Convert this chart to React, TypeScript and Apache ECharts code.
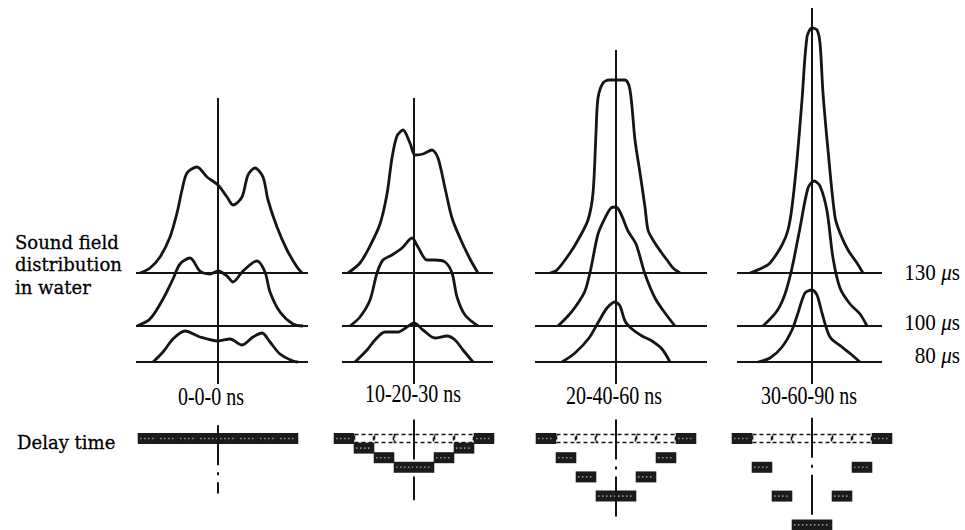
import React, { useEffect, useRef } from "react";
import * as echarts from "echarts";

// ---------- data ----------
const PANEL_LABELS = ["0-0-0 ns", "10-20-30 ns", "20-40-60 ns", "30-60-90 ns"];
const TIME_LABELS = ["80", "100", "130"]; // µs
const BASELINE_LEVELS = [18, 54, 107]; // stacking level of 80 / 100 / 130 µs traces

// sound-field profiles: [lateral position, amplitude above its baseline]
const P1_80 = [[-65,0],[-55,10],[-45,23],[-33,31],[-18,25],[0,21],[12,23],[24,17],[35,25],[44,29],[52,20],[62,8],[75,1],[80,0]];
const P1_100 = [[-81,0],[-68,7],[-55,27],[-45,47],[-38,62],[-28,68],[-18,55],[-8,52],[0,55],[9,50],[15,44],[25,55],[39,65],[47,54],[52,34],[62,14],[75,2],[85,0]];
const P1_130 = [[-78,0],[-68,5],[-58,16],[-48,36],[-41,60],[-36,83],[-31,100],[-21,106],[-11,96],[0,88],[9,76],[15,68],[24,76],[30,98],[37,105],[45,96],[50,73],[59,46],[69,23],[79,6],[84,0]];

const P2_80 = [[-59,0],[-47,12],[-39,22],[-29,30],[-16,30],[-7,35],[0,39],[9,32],[21,24],[33,26],[41,22],[49,12],[59,0]];
const P2_100 = [[-64,0],[-54,9],[-44,26],[-37,53],[-31,66],[-22,71],[-12,78],[-2,88],[4,79],[13,66],[21,66],[31,64],[38,53],[43,29],[51,11],[64,0]];
const P2_130 = [[-66,0],[-54,10],[-44,27],[-34,49],[-27,79],[-22,115],[-17,137],[-11,143],[-4,130],[1,118],[9,119],[18,123],[24,115],[31,85],[38,55],[46,35],[56,14],[64,0]];

const P3_80 = [[-54,0],[-41,9],[-27,24],[-17,41],[-9,54],[-1,60],[4,56],[9,41],[16,33],[26,26],[36,21],[46,13],[54,0]];
const P3_100 = [[-58,0],[-48,10],[-40,20],[-31,35],[-25,58],[-18,92],[-11,108],[-5,118],[0,119],[5,112],[12,95],[20,82],[29,52],[39,28],[49,13],[59,0]];
const P3_130 = [[-66,0],[-59,3],[-46,20],[-38,33],[-28,53],[-23,80],[-20,140],[-18,175],[-13,190],[-7,193],[9,193],[14,183],[19,133],[24,100],[29,66],[32,43],[37,33],[45,21],[51,13],[57,5],[64,0]];

const P4_80 = [[-54,0],[-42,4],[-30,15],[-20,32],[-14,49],[-7,69],[0,72],[5,67],[10,49],[18,25],[30,15],[40,7],[48,0]];
const P4_100 = [[-49,0],[-35,15],[-27,32],[-20,58],[-12,98],[-4,138],[2,145],[8,140],[15,115],[21,68],[28,38],[38,22],[48,12],[55,0]];
const P4_130 = [[-62,0],[-50,5],[-42,10],[-30,28],[-24,43],[-20,66],[-15,113],[-10,173],[-5,236],[0,245],[5,243],[8,230],[11,180],[16,123],[23,56],[28,40],[36,23],[45,10],[51,0]];

const PROFILES = [
  [P1_80, P1_100, P1_130],
  [P2_80, P2_100, P2_130],
  [P3_80, P3_100, P3_130],
  [P4_80, P4_100, P4_130],
];

// horizontal extents of the baselines and top of the axis line, per panel
const BASE_EXTENTS = [[-82, 90], [-72, 79], [-81, 91], [-75, 70]];
const AXIS_TOPS = [282, 282, 330, 372];

// transducer elements (lateral edges) and their delays in ns
const ELEMENT_EDGES = [[-80,-60],[-60,-40],[-40,-20],[-20,20],[20,40],[40,60],[60,80]];
const DELAYS_1 = [0, 0, 0, 0, 0, 0, 0];
const DELAYS_2 = [0, 10, 20, 30, 20, 10, 0];
const DELAYS_3 = [0, 20, 40, 60, 40, 20, 0];
const DELAYS_4 = [0, 30, 60, 90, 60, 30, 0];
const DELAYS = [DELAYS_1, DELAYS_2, DELAYS_3, DELAYS_4];
// extent of the dash-dot centre line in the delay diagrams (ns units)
const DELAY_AXIS_SPANS = [[-8, 63], [-14, 70], [-14, 88], [-16, 90]];

// ---------- layout ----------
const CENTERS = [218, 414, 616, 812];
const HALF = 100;
const LABEL_POS = [[211, 397], [413, 394], [614, 396], [809, 396]];
const TIME_LABEL_Y = [355, 322, 272];
const BAR_H = 11;
const INK = "#151515";

function buildOption() {
  const grid: any[] = [];
  const xAxis: any[] = [];
  const yAxis: any[] = [];
  const series: any[] = [];

  CENTERS.forEach((c) => {
    grid.push({ left: c - HALF, top: 0, width: 2 * HALF, height: 400 });
    xAxis.push({ type: "value", min: -HALF, max: HALF, show: false, gridIndex: grid.length - 1 });
    yAxis.push({ type: "value", min: -20, max: 380, show: false, gridIndex: grid.length - 1 });
  });
  CENTERS.forEach((c) => {
    grid.push({ left: c - HALF, top: 413.8, width: 2 * HALF, height: 115.2 });
    xAxis.push({ type: "value", min: -HALF, max: HALF, show: false, gridIndex: grid.length - 1 });
    yAxis.push({ type: "value", min: -20, max: 100, inverse: true, show: false, gridIndex: grid.length - 1 });
  });

  const lineBase = { type: "line", symbol: "none", silent: true, clip: false, animation: false };

  PROFILES.forEach((panel, i) => {
    BASELINE_LEVELS.forEach((lvl) => {
      series.push({
        ...lineBase,
        xAxisIndex: i,
        yAxisIndex: i,
        data: [[BASE_EXTENTS[i][0], lvl], [BASE_EXTENTS[i][1], lvl]],
        lineStyle: { color: INK, width: 2 },
      });
    });
    series.push({
      ...lineBase,
      xAxisIndex: i,
      yAxisIndex: i,
      data: [[0, -4], [0, AXIS_TOPS[i]]],
      lineStyle: { color: INK, width: 2 },
    });
    panel.forEach((prof, k) => {
      series.push({
        ...lineBase,
        name: PANEL_LABELS[i] + " " + TIME_LABELS[k] + " µs",
        xAxisIndex: i,
        yAxisIndex: i,
        smooth: 0.3,
        data: prof.map(([x, h]) => [x, BASELINE_LEVELS[k] + h]),
        lineStyle: { color: INK, width: 2.8, join: "round" },
      });
    });
  });

  DELAYS.forEach((del, i) => {
    const gi = 4 + i;
    series.push({
      ...lineBase,
      xAxisIndex: gi,
      yAxisIndex: gi,
      data: [[0, DELAY_AXIS_SPANS[i][0]], [0, DELAY_AXIS_SPANS[i][1]]],
      lineStyle: { color: INK, width: 2, type: [40, 7, 3, 7] },
    });
    const ghost = ELEMENT_EDGES.map((e, k) => [e[0], e[1], 0, del[k]]).filter((d) => d[3] > 0);
    if (ghost.length) {
      series.push({
        type: "custom",
        xAxisIndex: gi,
        yAxisIndex: gi,
        clip: false,
        silent: true,
        encode: { x: [0, 1], y: 2 },
        data: ghost,
        renderItem: (params: any, api: any) => {
          const p0 = api.coord([api.value(0), api.value(2)]);
          const p1 = api.coord([api.value(1), api.value(2)]);
          return {
            type: "rect",
            shape: { x: p0[0] + 0.5, y: p0[1] + 1.5, width: p1[0] - p0[0] - 1, height: BAR_H - 3 },
            style: { fill: "none", stroke: INK, lineWidth: 1.6, lineDash: [4, 3] },
          };
        },
      });
    }
    series.push({
      type: "custom",
      xAxisIndex: gi,
      yAxisIndex: gi,
      clip: false,
      silent: true,
      encode: { x: [0, 1], y: 2 },
      data: ELEMENT_EDGES.map((e, k) => [e[0], e[1], del[k]]),
      renderItem: (params: any, api: any) => {
        const p0 = api.coord([api.value(0), api.value(2)]);
        const p1 = api.coord([api.value(1), api.value(2)]);
        const w = p1[0] - p0[0];
        return {
          type: "group",
          children: [
            { type: "rect", shape: { x: p0[0] - 0.3, y: p0[1], width: w + 0.6, height: BAR_H }, style: { fill: "#1b1b1b" } },
            {
              type: "line",
              shape: { x1: p0[0] + 2, y1: p0[1] + BAR_H / 2, x2: p0[0] + w - 2, y2: p0[1] + BAR_H / 2 },
              style: { stroke: "#8f8f8f", lineWidth: 1.6, lineDash: [1.5, 2.5] },
            },
          ],
        };
      },
    });
  });

  const graphic: any[] = [];
  const sideFont = { fontFamily: "DejaVu Serif", fontSize: 19, fill: "#000" };
  ["Sound field", "distribution", "in water"].forEach((t, k) => {
    graphic.push({
      type: "text",
      x: 15,
      y: 242 + k * 22.5,
      scaleX: 0.95,
      style: { text: t, ...sideFont, align: "left", verticalAlign: "middle", stroke: "#000", lineWidth: 0.3 },
    });
  });
  graphic.push({
    type: "text",
    x: 17,
    y: 442,
    scaleX: 0.95,
    style: { text: "Delay time", ...sideFont, align: "left", verticalAlign: "middle", stroke: "#000", lineWidth: 0.3 },
  });
  PANEL_LABELS.forEach((t, i) => {
    graphic.push({
      type: "text",
      x: LABEL_POS[i][0],
      y: LABEL_POS[i][1],
      scaleX: 0.8,
      style: {
        text: t,
        fontFamily: "Liberation Serif",
        fontSize: 25,
        fill: "#000",
        align: "center",
        verticalAlign: "middle",
      },
    });
  });
  TIME_LABELS.forEach((t, k) => {
    graphic.push({
      type: "text",
      x: 960,
      y: TIME_LABEL_Y[k],
      scaleX: 0.88,
      style: {
        text: "{n|" + t + " }{u|μ}{n|s}",
        align: "right",
        verticalAlign: "middle",
        fill: "#000",
        rich: {
          n: { fontFamily: "Liberation Serif", fontSize: 24, fill: "#000" },
          u: { fontFamily: "Liberation Serif", fontSize: 24, fontStyle: "italic", fill: "#000" },
        },
      },
    });
  });

  return {
    animation: false,
    backgroundColor: "#ffffff",
    grid,
    xAxis,
    yAxis,
    series,
    graphic: { elements: graphic },
  };
}

export default function App() {
  const ref = useRef<HTMLDivElement>(null);
  useEffect(() => {
    if (!ref.current) return;
    const chart = echarts.init(ref.current, null, { renderer: "svg" });
    chart.setOption(buildOption() as any);
    return () => chart.dispose();
  }, []);
  return (
    <div
      ref={ref}
      style={{ position: "fixed", left: 0, top: 0, width: 965, height: 530, background: "#fff" }}
    />
  );
}
